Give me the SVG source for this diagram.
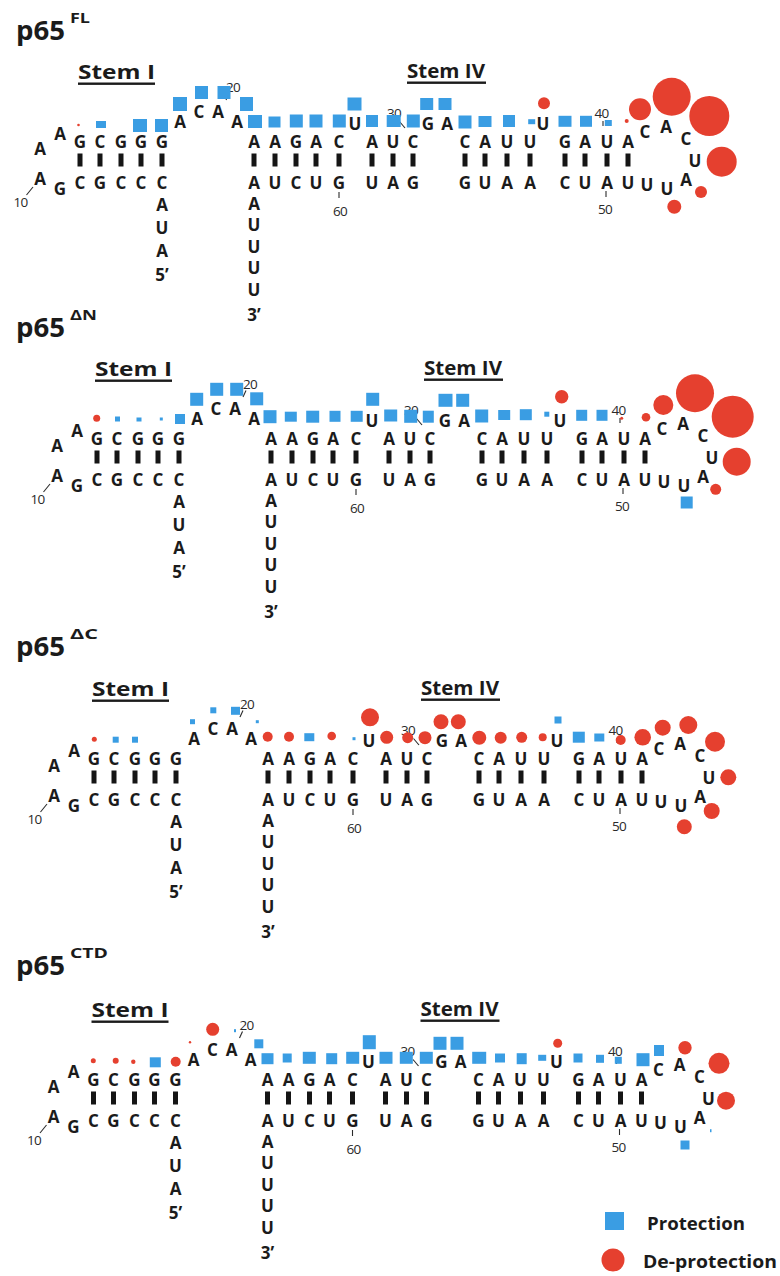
<svg xmlns="http://www.w3.org/2000/svg" width="780" height="1276" viewBox="0 0 780 1276">
<style>
  .nt { font-family: "Open Sans", "Liberation Sans", sans-serif; font-weight: 700; font-size: 17px; fill: #1b1b1b; text-anchor: middle; }
  .num { font-family: "Open Sans", "Liberation Sans", sans-serif; font-weight: 400; font-size: 13.5px; fill: #2a2a2a; text-anchor: middle; letter-spacing: -0.7px; }
  .tick { stroke: #2a2a2a; stroke-width: 1.1; fill: none; }
  .bp { fill: #151515; }
  .stem { font-family: "Open Sans", "Liberation Sans", sans-serif; font-weight: 700; font-size: 19px; fill: #1b1b1b; }
  .uline { fill: #1b1b1b; }
  .title { font-family: "Open Sans", "Liberation Sans", sans-serif; font-weight: 700; font-size: 26px; fill: #1b1b1b; }
  .sup { font-family: "Open Sans", "Liberation Sans", sans-serif; font-weight: 700; font-size: 15px; fill: #1b1b1b; }
  .prot { fill: #3a9de3; }
  .deprot { fill: #e5402f; }
  .legend { font-family: "Open Sans", "Liberation Sans", sans-serif; font-weight: 700; font-size: 17px; fill: #1b1b1b; }
</style>

<!-- Panel titles -->
<g id="titles">
  <text class="title" x="16" y="40" textLength="49" lengthAdjust="spacingAndGlyphs">p65</text>
  <text class="sup" x="70" y="23" textLength="20" lengthAdjust="spacingAndGlyphs">FL</text>
  <text class="title" x="16" y="337" textLength="49" lengthAdjust="spacingAndGlyphs">p65</text>
  <text class="sup" x="70" y="320" textLength="27" lengthAdjust="spacingAndGlyphs">ΔN</text>
  <text class="title" x="16" y="656" textLength="49" lengthAdjust="spacingAndGlyphs">p65</text>
  <text class="sup" x="70" y="639" textLength="28" lengthAdjust="spacingAndGlyphs">ΔC</text>
  <text class="title" x="16" y="975" textLength="49" lengthAdjust="spacingAndGlyphs">p65</text>
  <text class="sup" x="70" y="958" textLength="38" lengthAdjust="spacingAndGlyphs">CTD</text>
</g>

<!-- ===== p65 FL ===== -->
<g id="panel-fl" transform="translate(0,0)">
  <g id="labels-fl">
    <text class="stem" x="78" y="79" textLength="77" lengthAdjust="spacingAndGlyphs">Stem I</text>
    <rect class="uline" x="78" y="82.5" width="77" height="2.4"/>
    <text class="stem" x="407" y="78" textLength="78" lengthAdjust="spacingAndGlyphs">Stem IV</text>
    <rect class="uline" x="407" y="81.5" width="79" height="2.4"/>
  </g>
  <g id="pairs-fl" class="bp">
    <rect x="77.5" y="153.5" width="5" height="13"/><rect x="97.5" y="153.5" width="5" height="13"/><rect x="118.5" y="153.5" width="5" height="13"/><rect x="138.5" y="153.5" width="5" height="13"/><rect x="159.5" y="153.5" width="5" height="13"/>
    <rect x="251.5" y="153.5" width="5" height="13"/><rect x="272.5" y="153.5" width="5" height="13"/><rect x="293.5" y="153.5" width="5" height="13"/><rect x="313.5" y="153.5" width="5" height="13"/><rect x="336.5" y="153.5" width="5" height="13"/><rect x="369.5" y="153.5" width="5" height="13"/><rect x="390.5" y="153.5" width="5" height="13"/><rect x="410.5" y="153.5" width="5" height="13"/><rect x="462.5" y="153.5" width="5" height="13"/><rect x="482.5" y="153.5" width="5" height="13"/><rect x="504.5" y="153.5" width="5" height="13"/><rect x="527.5" y="153.5" width="5" height="13"/><rect x="562.5" y="153.5" width="5" height="13"/><rect x="582.5" y="153.5" width="5" height="13"/><rect x="604.5" y="153.5" width="5" height="13"/><rect x="625.5" y="153.5" width="5" height="13"/>
    <line class="tick" x1="26.5" y1="195" x2="33" y2="187"/>
    <line class="tick" x1="229" y1="93.5" x2="226" y2="100"/>
    <line class="tick" x1="399.5" y1="121.5" x2="405" y2="128"/>
    <line class="tick" x1="603" y1="121" x2="603" y2="126"/>
    <line class="tick" x1="606" y1="191" x2="606" y2="197"/>
    <line class="tick" x1="339" y1="192" x2="339" y2="198"/>
  </g>
  <g id="bases-fl" class="nt">
    <text x="80 100 121 141 162" y="148">GCGGG</text>
    <text x="80 100 121 141 162" y="188.5">CGCCC</text>
    <text x="60 40 40 60" y="140 155 185 195">AAAG</text>
    <text x="180 199 218 237" y="128 118 118 128">ACAA</text>
    <text x="254 275 296 316 339" y="148">AAGAC</text>
    <text x="372 393 413" y="148">AUC</text>
    <text x="465 485 507 530" y="148">CAUU</text>
    <text x="565 585 607 628" y="148">GAUA</text>
    <text x="355" y="129.5">U</text>
    <text x="428 447" y="129.5">GA</text>
    <text x="543" y="129.5">U</text>
    <text x="254 275 296 316 339" y="188.5">AUCUG</text>
    <text x="372 393 413" y="188.5">UAG</text>
    <text x="465 485 507 530" y="188.5">GUAA</text>
    <text x="565 585 607 628" y="188.5">CUAU</text>
    <text x="645 666 686 695 686 667 647" y="138 133 145 167 186 195 191">CACUAUU</text>
    <text x="162 162 162 162" y="211 234 257 280.5">AUA5’</text>
    <text x="254 254 254 254 254 254" y="209.5 231 252.5 274 295.5 321">AUUUU3’</text>
  </g>
  <g id="numbers-fl" class="num">
    <text x="20.5" y="207">10</text><text x="233" y="92">20</text><text x="394" y="118">30</text><text x="601.5" y="118">40</text><text x="605" y="213.5">50</text><text x="340" y="215.5">60</text>
  </g>
  <g id="marks-fl">
    <g class="prot">
      <rect x="96" y="121" width="10" height="7"/>
      <rect x="133" y="119" width="14" height="13"/>
      <rect x="155" y="119" width="13" height="13"/>
      <rect x="173" y="97" width="14" height="14"/>
      <rect x="195" y="86" width="13" height="13"/>
      <rect x="217.5" y="86" width="13" height="13"/>
      <rect x="240" y="97" width="13" height="14"/>
      <rect x="248" y="115" width="14" height="13"/>
      <rect x="268.5" y="116.5" width="12" height="11"/>
      <rect x="289.8" y="114.5" width="13" height="13"/>
      <rect x="309.5" y="114.5" width="13" height="13"/>
      <rect x="332.8" y="114.5" width="13" height="13"/>
      <rect x="347.5" y="97.5" width="14" height="13"/>
      <rect x="366" y="115" width="12" height="12"/>
      <rect x="386.7" y="115" width="14" height="12"/>
      <rect x="406.8" y="114.5" width="13" height="13"/>
      <rect x="420.2" y="98" width="13" height="12"/>
      <rect x="438.5" y="98" width="13" height="12"/>
      <rect x="458.5" y="115.5" width="13" height="13"/>
      <rect x="478.5" y="116" width="13" height="11"/>
      <rect x="503" y="115" width="12" height="12"/>
      <rect x="528.2" y="119.2" width="7" height="5"/>
      <rect x="558.5" y="115.8" width="13" height="11"/>
      <rect x="580" y="115.8" width="12" height="11"/>
      <rect x="604.8" y="120" width="7" height="6"/>
    </g>
    <g class="deprot">
      <circle cx="78.5" cy="125" r="1.3"/>
      <circle cx="544" cy="103.3" r="6"/>
      <circle cx="626.7" cy="121" r="2"/>
      <circle cx="640" cy="109.3" r="11"/>
      <circle cx="671.7" cy="96.7" r="19"/>
      <circle cx="709.3" cy="116" r="20"/>
      <circle cx="721.7" cy="161.7" r="15"/>
      <circle cx="701" cy="192" r="6"/>
      <circle cx="674.3" cy="206.7" r="7"/>
    </g>
  </g>
</g>

<!-- ===== p65 ΔN ===== -->
<g id="panel-dn" transform="translate(17,297)">
  <g id="labels-dn">
    <text class="stem" x="78" y="79" textLength="77" lengthAdjust="spacingAndGlyphs">Stem I</text>
    <rect class="uline" x="78" y="82.5" width="77" height="2.4"/>
    <text class="stem" x="407" y="78" textLength="78" lengthAdjust="spacingAndGlyphs">Stem IV</text>
    <rect class="uline" x="407" y="81.5" width="79" height="2.4"/>
  </g>
  <g id="pairs-dn" class="bp">
    <rect x="77.5" y="153.5" width="5" height="13"/><rect x="97.5" y="153.5" width="5" height="13"/><rect x="118.5" y="153.5" width="5" height="13"/><rect x="138.5" y="153.5" width="5" height="13"/><rect x="159.5" y="153.5" width="5" height="13"/>
    <rect x="251.5" y="153.5" width="5" height="13"/><rect x="272.5" y="153.5" width="5" height="13"/><rect x="293.5" y="153.5" width="5" height="13"/><rect x="313.5" y="153.5" width="5" height="13"/><rect x="336.5" y="153.5" width="5" height="13"/><rect x="369.5" y="153.5" width="5" height="13"/><rect x="390.5" y="153.5" width="5" height="13"/><rect x="410.5" y="153.5" width="5" height="13"/><rect x="462.5" y="153.5" width="5" height="13"/><rect x="482.5" y="153.5" width="5" height="13"/><rect x="504.5" y="153.5" width="5" height="13"/><rect x="527.5" y="153.5" width="5" height="13"/><rect x="562.5" y="153.5" width="5" height="13"/><rect x="582.5" y="153.5" width="5" height="13"/><rect x="604.5" y="153.5" width="5" height="13"/><rect x="625.5" y="153.5" width="5" height="13"/>
    <line class="tick" x1="26.5" y1="195" x2="33" y2="187"/>
    <line class="tick" x1="229" y1="93.5" x2="226" y2="100"/>
    <line class="tick" x1="399.5" y1="121.5" x2="405" y2="128"/>
    <line class="tick" x1="603" y1="121" x2="603" y2="126"/>
    <line class="tick" x1="606" y1="191" x2="606" y2="197"/>
    <line class="tick" x1="339" y1="192" x2="339" y2="198"/>
  </g>
  <g id="bases-dn" class="nt">
    <text x="80 100 121 141 162" y="148">GCGGG</text>
    <text x="80 100 121 141 162" y="188.5">CGCCC</text>
    <text x="60 40 40 60" y="140 155 185 195">AAAG</text>
    <text x="180 199 218 237" y="128 118 118 128">ACAA</text>
    <text x="254 275 296 316 339" y="148">AAGAC</text>
    <text x="372 393 413" y="148">AUC</text>
    <text x="465 485 507 530" y="148">CAUU</text>
    <text x="565 585 607 628" y="148">GAUA</text>
    <text x="355" y="129.5">U</text>
    <text x="428 447" y="129.5">GA</text>
    <text x="543" y="129.5">U</text>
    <text x="254 275 296 316 339" y="188.5">AUCUG</text>
    <text x="372 393 413" y="188.5">UAG</text>
    <text x="465 485 507 530" y="188.5">GUAA</text>
    <text x="565 585 607 628" y="188.5">CUAU</text>
    <text x="645 666 686 695 686 667 647" y="138 133 145 167 186 195 191">CACUAUU</text>
    <text x="162 162 162 162" y="211 234 257 280.5">AUA5’</text>
    <text x="254 254 254 254 254 254" y="209.5 231 252.5 274 295.5 321">AUUUU3’</text>
  </g>
  <g id="numbers-dn" class="num">
    <text x="20.5" y="207">10</text><text x="233" y="92">20</text><text x="394" y="118">30</text><text x="601.5" y="118">40</text><text x="605" y="213.5">50</text><text x="340" y="215.5">60</text>
  </g>
  <g id="marks-dn">
    <g class="prot">
      <rect x="98" y="119.5" width="5" height="5"/>
      <rect x="119.5" y="120.5" width="5" height="4"/>
      <rect x="142.8" y="120.5" width="3" height="3"/>
      <rect x="158" y="117" width="10" height="10"/>
      <rect x="173.2" y="95.8" width="13" height="13"/>
      <rect x="193.2" y="85.8" width="13" height="13"/>
      <rect x="213.2" y="85.8" width="13" height="13"/>
      <rect x="233.2" y="95.3" width="13" height="13"/>
      <rect x="246.5" y="113.2" width="13" height="13"/>
      <rect x="267.8" y="114.7" width="12" height="10"/>
      <rect x="289.2" y="113.7" width="13" height="12"/>
      <rect x="312.5" y="113.8" width="11" height="11"/>
      <rect x="333.7" y="113.8" width="12" height="11"/>
      <rect x="349.2" y="95.8" width="13" height="13"/>
      <rect x="367.2" y="112.5" width="13" height="12"/>
      <rect x="387.2" y="112.8" width="13" height="13"/>
      <rect x="405.8" y="113.7" width="11" height="12"/>
      <rect x="421.5" y="96.8" width="14" height="13"/>
      <rect x="439.2" y="96.8" width="13" height="13"/>
      <rect x="458.2" y="112.5" width="13" height="13"/>
      <rect x="481.2" y="113" width="12" height="10"/>
      <rect x="502.8" y="112.2" width="12" height="11"/>
      <rect x="527.3" y="114.7" width="5" height="5"/>
      <rect x="559.2" y="112.8" width="11" height="11"/>
      <rect x="579.5" y="112.8" width="11" height="11"/>
      <rect x="663.7" y="199.5" width="12" height="12"/>
    </g>
    <g class="deprot">
      <circle cx="79.7" cy="121.3" r="3.5"/>
      <circle cx="544.7" cy="99.7" r="6.7"/>
      <circle cx="604.7" cy="121.3" r="1.5"/>
      <circle cx="629" cy="120.3" r="4.3"/>
      <circle cx="646.3" cy="108" r="10"/>
      <circle cx="678" cy="96.3" r="19"/>
      <circle cx="715.7" cy="119.7" r="21"/>
      <circle cx="719.7" cy="164.7" r="14"/>
      <circle cx="698.7" cy="192.3" r="5.5"/>
    </g>
  </g>
</g>

<!-- ===== p65 ΔC ===== -->
<g id="panel-dc" transform="translate(14,617)">
  <g id="labels-dc">
    <text class="stem" x="78" y="79" textLength="77" lengthAdjust="spacingAndGlyphs">Stem I</text>
    <rect class="uline" x="78" y="82.5" width="77" height="2.4"/>
    <text class="stem" x="407" y="78" textLength="78" lengthAdjust="spacingAndGlyphs">Stem IV</text>
    <rect class="uline" x="407" y="81.5" width="79" height="2.4"/>
  </g>
  <g id="pairs-dc" class="bp">
    <rect x="77.5" y="153.5" width="5" height="13"/><rect x="97.5" y="153.5" width="5" height="13"/><rect x="118.5" y="153.5" width="5" height="13"/><rect x="138.5" y="153.5" width="5" height="13"/><rect x="159.5" y="153.5" width="5" height="13"/>
    <rect x="251.5" y="153.5" width="5" height="13"/><rect x="272.5" y="153.5" width="5" height="13"/><rect x="293.5" y="153.5" width="5" height="13"/><rect x="313.5" y="153.5" width="5" height="13"/><rect x="336.5" y="153.5" width="5" height="13"/><rect x="369.5" y="153.5" width="5" height="13"/><rect x="390.5" y="153.5" width="5" height="13"/><rect x="410.5" y="153.5" width="5" height="13"/><rect x="462.5" y="153.5" width="5" height="13"/><rect x="482.5" y="153.5" width="5" height="13"/><rect x="504.5" y="153.5" width="5" height="13"/><rect x="527.5" y="153.5" width="5" height="13"/><rect x="562.5" y="153.5" width="5" height="13"/><rect x="582.5" y="153.5" width="5" height="13"/><rect x="604.5" y="153.5" width="5" height="13"/><rect x="625.5" y="153.5" width="5" height="13"/>
    <line class="tick" x1="26.5" y1="195" x2="33" y2="187"/>
    <line class="tick" x1="229" y1="93.5" x2="226" y2="100"/>
    <line class="tick" x1="399.5" y1="121.5" x2="405" y2="128"/>
    <line class="tick" x1="603" y1="121" x2="603" y2="126"/>
    <line class="tick" x1="606" y1="191" x2="606" y2="197"/>
    <line class="tick" x1="339" y1="192" x2="339" y2="198"/>
  </g>
  <g id="bases-dc" class="nt">
    <text x="80 100 121 141 162" y="148">GCGGG</text>
    <text x="80 100 121 141 162" y="188.5">CGCCC</text>
    <text x="60 40 40 60" y="140 155 185 195">AAAG</text>
    <text x="180 199 218 237" y="128 118 118 128">ACAA</text>
    <text x="254 275 296 316 339" y="148">AAGAC</text>
    <text x="372 393 413" y="148">AUC</text>
    <text x="465 485 507 530" y="148">CAUU</text>
    <text x="565 585 607 628" y="148">GAUA</text>
    <text x="355" y="129.5">U</text>
    <text x="428 447" y="129.5">GA</text>
    <text x="543" y="129.5">U</text>
    <text x="254 275 296 316 339" y="188.5">AUCUG</text>
    <text x="372 393 413" y="188.5">UAG</text>
    <text x="465 485 507 530" y="188.5">GUAA</text>
    <text x="565 585 607 628" y="188.5">CUAU</text>
    <text x="645 666 686 695 686 667 647" y="138 133 145 167 186 195 191">CACUAUU</text>
    <text x="162 162 162 162" y="211 234 257 280.5">AUA5’</text>
    <text x="254 254 254 254 254 254" y="209.5 231 252.5 274 295.5 321">AUUUU3’</text>
  </g>
  <g id="numbers-dc" class="num">
    <text x="20.5" y="207">10</text><text x="233" y="92">20</text><text x="394" y="118">30</text><text x="601.5" y="118">40</text><text x="605" y="213.5">50</text><text x="340" y="215.5">60</text>
  </g>
  <g id="marks-dc">
    <g class="prot">
      <rect x="98.7" y="119.7" width="6" height="6"/>
      <rect x="118" y="119.7" width="6" height="6"/>
      <rect x="176" y="102.2" width="5" height="5"/>
      <rect x="196.3" y="90.3" width="6" height="6"/>
      <rect x="217" y="89.8" width="9" height="8"/>
      <rect x="241.8" y="103.2" width="3" height="3"/>
      <rect x="290.3" y="116.2" width="10" height="8"/>
      <rect x="338.5" y="120.2" width="3" height="3"/>
      <rect x="540.5" y="99.5" width="7" height="7"/>
      <rect x="558.8" y="114.7" width="12" height="11"/>
      <rect x="580.3" y="116.5" width="10" height="8"/>
    </g>
    <g class="deprot">
      <circle cx="80.3" cy="122.3" r="2.5"/>
      <circle cx="253.7" cy="119.7" r="5"/>
      <circle cx="275" cy="119.7" r="5"/>
      <circle cx="317.7" cy="119" r="4.3"/>
      <circle cx="356" cy="100.3" r="9"/>
      <circle cx="372.7" cy="120.3" r="6.5"/>
      <circle cx="393.7" cy="120.7" r="5.5"/>
      <circle cx="411" cy="120.7" r="6.5"/>
      <circle cx="427" cy="104.7" r="7.5"/>
      <circle cx="444.3" cy="104.7" r="7.5"/>
      <circle cx="465.3" cy="120.7" r="7"/>
      <circle cx="486.7" cy="120.7" r="6"/>
      <circle cx="507.7" cy="120.3" r="5.5"/>
      <circle cx="528.7" cy="120.3" r="4"/>
      <circle cx="606.7" cy="123" r="5"/>
      <circle cx="628.7" cy="120.3" r="8.3"/>
      <circle cx="648.7" cy="110.7" r="8"/>
      <circle cx="674.3" cy="108" r="9"/>
      <circle cx="701" cy="124.7" r="10"/>
      <circle cx="714.3" cy="160.3" r="8"/>
      <circle cx="697.7" cy="194" r="8"/>
      <circle cx="670.3" cy="209.7" r="7.5"/>
    </g>
  </g>
</g>

<!-- ===== p65 CTD ===== -->
<g id="panel-ctd" transform="translate(13.5,938)">
  <g id="labels-ctd">
    <text class="stem" x="78" y="79" textLength="77" lengthAdjust="spacingAndGlyphs">Stem I</text>
    <rect class="uline" x="78" y="82.5" width="77" height="2.4"/>
    <text class="stem" x="407" y="78" textLength="78" lengthAdjust="spacingAndGlyphs">Stem IV</text>
    <rect class="uline" x="407" y="81.5" width="79" height="2.4"/>
  </g>
  <g id="pairs-ctd" class="bp">
    <rect x="77.5" y="153.5" width="5" height="13"/><rect x="97.5" y="153.5" width="5" height="13"/><rect x="118.5" y="153.5" width="5" height="13"/><rect x="138.5" y="153.5" width="5" height="13"/><rect x="159.5" y="153.5" width="5" height="13"/>
    <rect x="251.5" y="153.5" width="5" height="13"/><rect x="272.5" y="153.5" width="5" height="13"/><rect x="293.5" y="153.5" width="5" height="13"/><rect x="313.5" y="153.5" width="5" height="13"/><rect x="336.5" y="153.5" width="5" height="13"/><rect x="369.5" y="153.5" width="5" height="13"/><rect x="390.5" y="153.5" width="5" height="13"/><rect x="410.5" y="153.5" width="5" height="13"/><rect x="462.5" y="153.5" width="5" height="13"/><rect x="482.5" y="153.5" width="5" height="13"/><rect x="504.5" y="153.5" width="5" height="13"/><rect x="527.5" y="153.5" width="5" height="13"/><rect x="562.5" y="153.5" width="5" height="13"/><rect x="582.5" y="153.5" width="5" height="13"/><rect x="604.5" y="153.5" width="5" height="13"/><rect x="625.5" y="153.5" width="5" height="13"/>
    <line class="tick" x1="26.5" y1="195" x2="33" y2="187"/>
    <line class="tick" x1="229" y1="93.5" x2="226" y2="100"/>
    <line class="tick" x1="399.5" y1="121.5" x2="405" y2="128"/>
    <line class="tick" x1="603" y1="121" x2="603" y2="126"/>
    <line class="tick" x1="606" y1="191" x2="606" y2="197"/>
    <line class="tick" x1="339" y1="192" x2="339" y2="198"/>
  </g>
  <g id="bases-ctd" class="nt">
    <text x="80 100 121 141 162" y="148">GCGGG</text>
    <text x="80 100 121 141 162" y="188.5">CGCCC</text>
    <text x="60 40 40 60" y="140 155 185 195">AAAG</text>
    <text x="180 199 218 237" y="128 118 118 128">ACAA</text>
    <text x="254 275 296 316 339" y="148">AAGAC</text>
    <text x="372 393 413" y="148">AUC</text>
    <text x="465 485 507 530" y="148">CAUU</text>
    <text x="565 585 607 628" y="148">GAUA</text>
    <text x="355" y="129.5">U</text>
    <text x="428 447" y="129.5">GA</text>
    <text x="543" y="129.5">U</text>
    <text x="254 275 296 316 339" y="188.5">AUCUG</text>
    <text x="372 393 413" y="188.5">UAG</text>
    <text x="465 485 507 530" y="188.5">GUAA</text>
    <text x="565 585 607 628" y="188.5">CUAU</text>
    <text x="645 666 686 695 686 667 647" y="138 133 145 167 186 195 191">CACUAUU</text>
    <text x="162 162 162 162" y="211 234 257 280.5">AUA5’</text>
    <text x="254 254 254 254 254 254" y="209.5 231 252.5 274 295.5 321">AUUUU3’</text>
  </g>
  <g id="numbers-ctd" class="num">
    <text x="20.5" y="207">10</text><text x="233" y="92">20</text><text x="394" y="118">30</text><text x="601.5" y="118">40</text><text x="605" y="213.5">50</text><text x="340" y="215.5">60</text>
  </g>
  <g id="marks-ctd">
    <g class="prot">
      <rect x="136.3" y="119.3" width="11" height="10"/>
      <rect x="220.5" y="91.2" width="2" height="3"/>
      <rect x="240.8" y="101.3" width="9" height="9"/>
      <rect x="248" y="115.2" width="12" height="11"/>
      <rect x="269.2" y="115.5" width="9" height="9"/>
      <rect x="289.3" y="113.8" width="13" height="12"/>
      <rect x="312.7" y="115.2" width="11" height="11"/>
      <rect x="332.7" y="113.8" width="13" height="12"/>
      <rect x="349.3" y="97.2" width="13" height="14"/>
      <rect x="366" y="113.8" width="13" height="12"/>
      <rect x="386.3" y="113.8" width="13" height="12"/>
      <rect x="406.3" y="113.8" width="13" height="12"/>
      <rect x="420" y="98.8" width="13" height="13"/>
      <rect x="437" y="98.8" width="13" height="13"/>
      <rect x="458.7" y="113.8" width="14" height="12"/>
      <rect x="481.5" y="115.5" width="10" height="9"/>
      <rect x="503.2" y="115.2" width="10" height="11"/>
      <rect x="524.7" y="116.8" width="8" height="6"/>
      <rect x="560" y="115.5" width="9" height="9"/>
      <rect x="582.5" y="116.8" width="8" height="8"/>
      <rect x="601.3" y="118.8" width="7" height="7"/>
      <rect x="623" y="115.2" width="13" height="13"/>
      <rect x="640.5" y="107" width="10" height="11"/>
      <rect x="696.5" y="191.2" width="1.5" height="3"/>
      <rect x="667" y="202.5" width="9" height="9"/>
    </g>
    <g class="deprot">
      <circle cx="79.8" cy="122.7" r="2.5"/>
      <circle cx="102.2" cy="122.7" r="3"/>
      <circle cx="119.8" cy="123.7" r="2.2"/>
      <circle cx="162.2" cy="123.7" r="5"/>
      <circle cx="176.5" cy="104.3" r="1.2"/>
      <circle cx="199.2" cy="91.3" r="6.5"/>
      <circle cx="544.2" cy="105.3" r="4.5"/>
      <circle cx="671.5" cy="109.7" r="6.7"/>
      <circle cx="705.5" cy="125.3" r="10.5"/>
      <circle cx="712.5" cy="162.7" r="9"/>
    </g>
  </g>
</g>

<!-- Legend -->
<g id="legend">
  <rect class="prot" x="605" y="1212" width="19" height="18"/>
  <text class="legend" x="647" y="1230" textLength="98" lengthAdjust="spacingAndGlyphs">Protection</text>
  <circle class="deprot" cx="613" cy="1260" r="11.5"/>
  <text class="legend" x="643" y="1268" textLength="134" lengthAdjust="spacingAndGlyphs">De-protection</text>
</g>
</svg>
